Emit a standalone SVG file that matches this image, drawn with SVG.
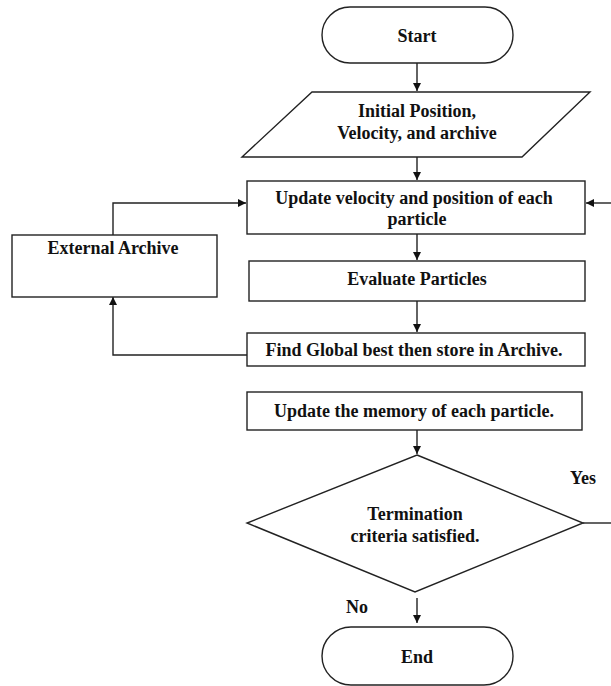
<svg xmlns="http://www.w3.org/2000/svg" width="611" height="686" viewBox="0 0 611 686">
<style>
.s{fill:#fff;stroke:#222;stroke-width:1.4}
.t{font-family:"Liberation Serif","Times New Roman",serif;font-weight:bold;font-size:18px;fill:#111;text-anchor:middle}
.c{fill:none;stroke:#222;stroke-width:1.4}
</style>
<defs>
<marker id="a" viewBox="0 0 10 10" refX="10" refY="5" markerWidth="8" markerHeight="8" markerUnits="userSpaceOnUse" orient="auto">
<path d="M0,0 L10,5 L0,10 z" fill="#111"/>
</marker>
</defs>
<rect width="611" height="686" fill="#fff"/>
<g id="connectors">
<path class="c" d="M417,63 V91" marker-end="url(#a)"/>
<path class="c" d="M417,157 V180" marker-end="url(#a)"/>
<path class="c" d="M417,234 V260" marker-end="url(#a)"/>
<path class="c" d="M417,301 V332" marker-end="url(#a)"/>
<path class="c" d="M247,355 H113 V297" marker-end="url(#a)"/>
<path class="c" d="M113,235 V203 H246" marker-end="url(#a)"/>
<path class="c" d="M417,430 V454" marker-end="url(#a)"/>
<path class="c" d="M583,523 H611"/>
<path class="c" d="M611,203 H586" marker-end="url(#a)"/>
<path class="c" d="M417,598 V623" marker-end="url(#a)"/>
</g>
<g id="start">
<rect class="s" x="322" y="7" width="191" height="56" rx="28"/>
<text class="t" x="417" y="42">Start</text>
</g>
<g id="init">
<polygon class="s" points="312,92 590,92 522,157 242,157"/>
<text class="t" x="417" y="117">Initial Position,</text>
<text class="t" x="417" y="139">Velocity, and archive</text>
</g>
<g id="update">
<rect class="s" x="247" y="181" width="338" height="53"/>
<text class="t" x="414" y="204">Update velocity and position of each</text>
<text class="t" x="417" y="225">particle</text>
</g>
<g id="archive">
<rect class="s" x="12" y="235" width="205" height="62"/>
<text class="t" x="113" y="254">External Archive</text>
</g>
<g id="evaluate">
<rect class="s" x="249" y="261" width="336" height="40"/>
<text class="t" x="417" y="285">Evaluate Particles</text>
</g>
<g id="find">
<rect class="s" x="247" y="333" width="338" height="33"/>
<text class="t" x="414" y="356">Find Global best then store in Archive.</text>
</g>
<g id="memory">
<rect class="s" x="247" y="392" width="335" height="38"/>
<text class="t" x="414" y="417">Update the memory of each particle.</text>
</g>
<g id="decision">
<polygon class="s" points="417,455 583,523 415,592 247,523"/>
<text class="t" x="415" y="520">Termination</text>
<text class="t" x="415" y="542">criteria satisfied.</text>
<text class="t" x="583" y="484">Yes</text>
<text class="t" x="357" y="613">No</text>
</g>
<g id="end">
<rect class="s" x="322" y="627" width="191" height="58" rx="29"/>
<text class="t" x="417" y="663">End</text>
</g>
</svg>
